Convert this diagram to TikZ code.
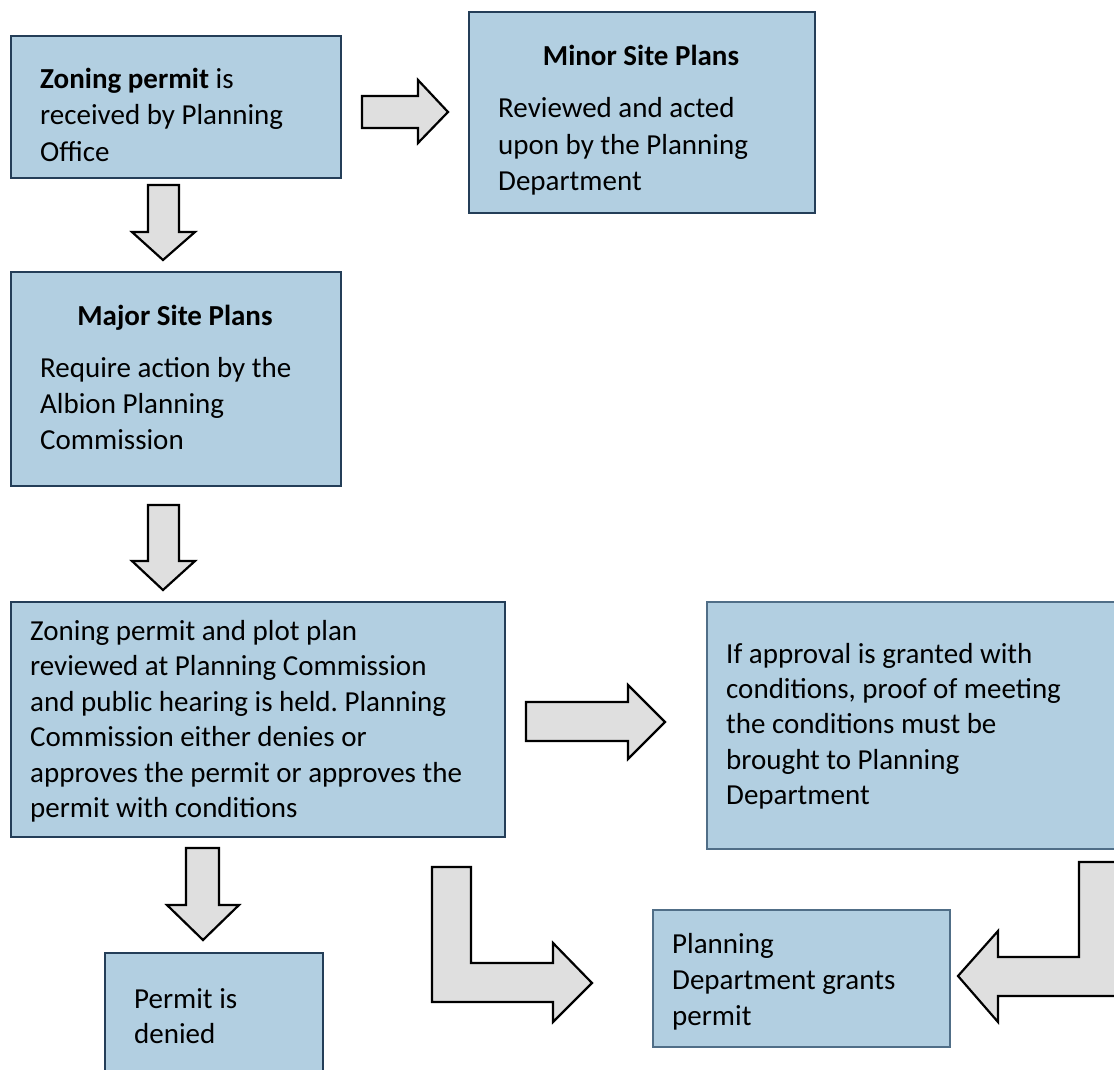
\documentclass[tikz,border=0pt]{standalone}
\usepackage{fontspec}
\setmainfont{Carlito}
\frenchspacing
\definecolor{boxfill}{RGB}{178,207,225}
\definecolor{boxdark}{RGB}{36,62,88}
\definecolor{boxlight}{RGB}{80,110,135}
\definecolor{arrowfill}{RGB}{223,223,223}
\tikzset{
  box/.style={draw=boxdark, fill=boxfill, line width=1.8pt, rectangle, inner sep=0pt, anchor=north west},
  lbox/.style={box, draw=boxlight},
  txt/.style={anchor=base west, inner sep=0pt, font=\fontsize{29}{36}\selectfont},
  ttl/.style={anchor=base, inner sep=0pt, font=\fontsize{29}{36}\selectfont\bfseries},
  blockarrow/.style={draw=black, fill=arrowfill, line width=2.2pt, line join=miter}
}
\begin{document}
\begin{tikzpicture}[x=1pt,y=-1pt]
\useasboundingbox (0,0) rectangle (1114,1070);
\begin{scope}
\clip (0,0) rectangle (1114,1070);
% boxes
\node[box, minimum width=330pt, minimum height=142pt] (b1) at (10,35) {};
\node[box, minimum width=346pt, minimum height=201pt] (minor) at (468,11) {};
\node[box, minimum width=330pt, minimum height=214pt] (major) at (10,271) {};
\node[box, minimum width=494pt, minimum height=235pt] (review) at (10,601) {};
\node[lbox, minimum width=420pt, minimum height=247pt] (cond) at (706,601) {};
\node[box, minimum width=218pt, minimum height=130pt] (denied) at (104,952) {};
\node[lbox, minimum width=297pt, minimum height=137pt] (grants) at (652,909) {};

% texts
\node[txt] (t1a) at (40,89) {\textbf{Zoning permit} is};
\node[txt] (t1b) at (40,125) {received by Planning};
\node[txt] (t1c) at (40,161) {Office};

\node[ttl] (t2) at (641,66) {Minor Site Plans};
\node[txt] (t2a) at (498,118) {Reviewed and acted};
\node[txt] (t2b) at (498,154) {upon by the Planning};
\node[txt] (t2c) at (498,190) {Department};

\node[ttl] (t3) at (175,325) {Major Site Plans};
\node[txt] (t3a) at (40,377) {Require action by the};
\node[txt] (t3b) at (40,413) {Albion Planning};
\node[txt] (t3c) at (40,449) {Commission};

\node[txt] (t4a) at (30,640) {Zoning permit and plot plan};
\node[txt] (t4b) at (30,675) {reviewed at Planning Commission};
\node[txt] (t4c) at (30,711) {and public hearing is held. Planning};
\node[txt] (t4d) at (30,746) {Commission either denies or};
\node[txt] (t4e) at (30,782) {approves the permit or approves the};
\node[txt] (t4f) at (30,817) {permit with conditions};

\node[txt] (t5a) at (726,663) {If approval is granted with};
\node[txt] (t5b) at (726,698) {conditions, proof of meeting};
\node[txt] (t5c) at (726,733) {the conditions must be};
\node[txt] (t5d) at (726,769) {brought to Planning};
\node[txt] (t5e) at (726,804) {Department};

\node[txt] (t6a) at (134,1008) {Permit is};
\node[txt] (t6b) at (134,1043) {denied};

\node[txt] (t7a) at (672,953) {Planning};
\node[txt] (t7b) at (672,989) {Department grants};
\node[txt] (t7c) at (672,1025) {permit};

% block arrows
\draw[blockarrow] (362,96) -- (418,96) -- (418,80) -- (448,112) -- (418,143) -- (418,128) -- (362,128) -- cycle;
\draw[blockarrow] (148,185) -- (179,185) -- (179,232) -- (195,232) -- (163,260) -- (132,232) -- (148,232) -- cycle;
\draw[blockarrow] (148,505) -- (179,505) -- (179,561) -- (195,561) -- (163,590) -- (132,561) -- (148,561) -- cycle;
\draw[blockarrow] (526,702) -- (628,702) -- (628,685) -- (665,722) -- (628,759) -- (628,741) -- (526,741) -- cycle;
\draw[blockarrow] (186,848) -- (219,848) -- (219,905) -- (239,905) -- (203,940) -- (167,905) -- (186,905) -- cycle;
\draw[blockarrow] (432,867) -- (471,867) -- (471,963) -- (553,963) -- (553,943) -- (592,983) -- (553,1022) -- (553,1002) -- (432,1002) -- cycle;
\draw[blockarrow] (1125,862) -- (1079,862) -- (1079,957) -- (998,957) -- (998,931) -- (958,976) -- (998,1022) -- (998,996) -- (1125,996);
\end{scope}
\end{tikzpicture}
\end{document}
